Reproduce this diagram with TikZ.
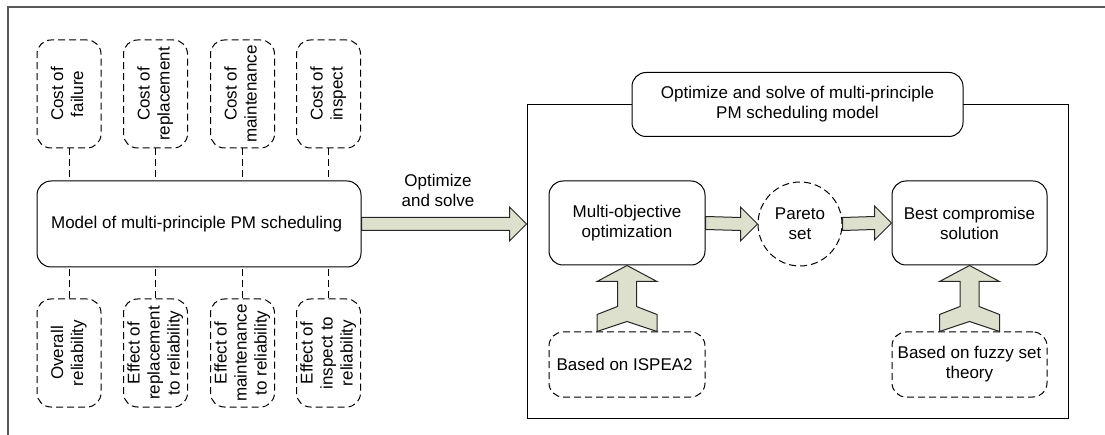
\documentclass[tikz,border=0pt]{standalone}
\usepackage{fontspec}
\usepackage{graphicx}
\setmainfont{Liberation Sans}
\usetikzlibrary{calc}

\definecolor{arrowfill}{RGB}{221,224,204}

% rotated lines inside the upright boxes
\newcommand{\vlabel}[1]{\rotatebox{90}{\begin{tabular}{@{}c@{}}#1\end{tabular}}}

% fat arrow pointing right, from #1 to the tip #2
\newcommand{\fatarrow}[2]{%
   \draw[arrowbody]
      ($(#1)+(0,-6.5)$)
      -- ($(#2)+(-17,-6.5)$)
      -- ($(#2)+(-17,-17)$)
      -- (#2)
      -- ($(#2)+(-17,17)$)
      -- ($(#2)+(-17,6.5)$)
      -- ($(#1)+(0,6.5)$)
      -- cycle;}

% arrow pointing up with a notched tail, from base #1 to tip #2
\newcommand{\liftarrow}[2]{%
   \draw[arrowbody]
      (#2)
      -- ($(#2)+(30,16)$)
      -- ($(#2)+(9.5,16)$)
      -- ($(#1)+(9.5,-25)$)
      -- ($(#1)+(30,-17)$)
      -- ($(#1)+(30,0)$)
      -- ($(#1)+(0,-10)$)
      -- ($(#1)+(-30,0)$)
      -- ($(#1)+(-30,-17)$)
      -- ($(#1)+(-9.5,-25)$)
      -- ($(#2)+(-9.5,16)$)
      -- ($(#2)+(-30,16)$)
      -- cycle;}

\begin{document}
\begin{tikzpicture}[
   x=1pt,
   y=-1pt,
   font=\fontsize{17}{20}\selectfont,
   line width=1pt,
   rbox/.style={
      draw,
      fill=white,
      rounded corners=14pt,
      align=center
   },
   dbox/.style={
      rbox,
      dash pattern=on 7pt off 4pt
   },
   vbox/.style={
      dbox,
      inner sep=0pt,
      minimum width=64pt,
      minimum height=108pt
   },
   dline/.style={
      draw,
      dash pattern=on 7pt off 4pt
   },
   arrowbody/.style={
      draw=black!85,
      fill=arrowfill,
      line width=1pt,
      line join=miter
   }
]

   \useasboundingbox (0,0) rectangle (1105,435);

   % Outer frame
   \draw[gray!70!black,line width=1.3pt] (1105,7) -- (8,7) -- (8,435);

   % Model
   \node[
      rbox,
      minimum width=324pt,
      minimum height=86pt
   ] (model) at (199,224)
   {
      Model of multi-principle PM scheduling
   };

   % Cost terms
   \node[vbox] (cfail) at (69,94) {\vlabel{Cost of\\failure}};
   \node[vbox] (crepl) at (155.5,94) {\vlabel{Cost of\\replacement}};
   \node[vbox] (cmaint) at (242.5,94) {\vlabel{Cost of\\maintenance}};
   \node[vbox] (cinsp) at (328.5,94) {\vlabel{Cost of\\inspect}};

   % Reliability terms
   \node[vbox] (roverall) at (69,353) {\vlabel{Overall\\reliability}};
   \node[vbox] (rrepl) at (155.5,353) {\vlabel{Effect of\\replacement\\to reliability}};
   \node[vbox] (rmaint) at (242.5,353) {\vlabel{Effect of\\maintenance\\to reliability}};
   \node[vbox] (rinsp) at (328.5,353) {\vlabel{Effect of\\inspect to\\reliability}};

   % Links to the model
   \draw[dline] (cfail.south) -- (cfail.south |- model.north);
   \draw[dline] (crepl.south) -- (crepl.south |- model.north);
   \draw[dline] (cmaint.south) -- (cmaint.south |- model.north);
   \draw[dline] (cinsp.south) -- (cinsp.south |- model.north);

   \draw[dline] (roverall.north) -- (roverall.north |- model.south);
   \draw[dline] (rrepl.north) -- (rrepl.north |- model.south);
   \draw[dline] (rmaint.north) -- (rmaint.north |- model.south);
   \draw[dline] (rinsp.north) -- (rinsp.north |- model.south);

   % Optimize and solve frame
   \node[
      draw,
      minimum width=541pt,
      minimum height=313pt
   ] (solvebox) at (797.5,261.5) {};

   \node[
      rbox,
      minimum width=331pt,
      minimum height=64pt
   ] (solvetitle) at (solvebox.north)
   {
      Optimize and solve of multi-principle\\
      PM scheduling model
   };

   % Step from model to frame
   \coordinate (solvein) at (model.east -| solvebox.west);
   \fatarrow{model.east}{solvein}

   \node[align=center] (solvelabel) at (438,190)
   {
      Optimize\\
      and solve
   };

   % Inner steps
   \node[
      rbox,
      minimum width=156pt,
      minimum height=84pt
   ] (multi) at (627,223)
   {
      Multi-objective\\
      optimization
   };

   \node[
      dline,
      circle,
      fill=white,
      align=center,
      minimum size=84pt
   ] (pareto) at (800,224)
   {
      Pareto\\
      set
   };

   \node[
      rbox,
      minimum width=155pt,
      minimum height=84pt
   ] (best) at (969.5,223)
   {
      Best compromise\\
      solution
   };

   \node[
      dbox,
      minimum width=156pt,
      minimum height=65pt
   ] (ispea) at (627,364.5)
   {
      Based on ISPEA2
   };

   \node[
      dbox,
      minimum width=155pt,
      minimum height=65pt
   ] (fuzzy) at (969.5,364.5)
   {
      Based on fuzzy set\\
      theory
   };

   % Arrows between steps
   \fatarrow{multi.east}{pareto.west}
   \fatarrow{pareto.east}{best.west}

   \liftarrow{ispea.north}{multi.south}
   \liftarrow{fuzzy.north}{best.south}

\end{tikzpicture}
\end{document}
